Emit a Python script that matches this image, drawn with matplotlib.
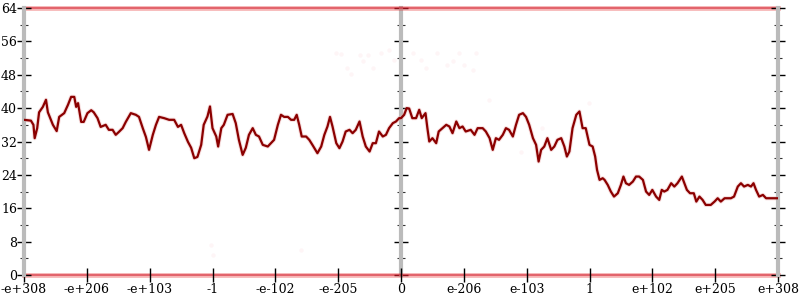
import matplotlib.pyplot as plt

# eje x: posiciones -6..6 (una por etiqueta)
x_linea = [-6.0, -5.89, -5.85, -5.83, -5.79, -5.76, -5.70, -5.65, -5.62, -5.54, -5.48, -5.44,
           -5.36, -5.30, -5.25, -5.20, -5.17, -5.14, -5.09, -5.05, -4.99, -4.93, -4.89, -4.83,
           -4.78, -4.70, -4.65, -4.59, -4.54, -4.49, -4.43, -4.38, -4.30, -4.22, -4.17, -4.11,
           -4.06, -4.01, -3.95, -3.90, -3.85, -3.77, -3.69, -3.61, -3.55, -3.50, -3.45, -3.39,
           -3.34, -3.29, -3.24, -3.18, -3.14, -3.08, -3.04, -3.00, -2.94, -2.91, -2.86, -2.82,
           -2.76, -2.68, -2.63, -2.58, -2.52, -2.47, -2.42, -2.36, -2.31, -2.26, -2.20, -2.12,
           -2.07, -2.02, -1.96, -1.91, -1.86, -1.80, -1.75, -1.70, -1.66, -1.62, -1.58, -1.51,
           -1.46, -1.41, -1.33, -1.27, -1.22, -1.17, -1.13, -1.09, -1.03, -0.98, -0.93, -0.88,
           -0.82, -0.77, -0.72, -0.66, -0.61, -0.56, -0.50, -0.45, -0.40, -0.35, -0.29, -0.24,
           -0.19, -0.13, -0.08, -0.03, 0.0, 0.05, 0.09, 0.13, 0.18, 0.24, 0.29, 0.33, 0.39,
           0.42, 0.45, 0.50, 0.56, 0.60, 0.66, 0.72, 0.77, 0.82, 0.88, 0.93, 0.98, 1.03, 1.11,
           1.17, 1.22, 1.30, 1.35, 1.41, 1.46, 1.51, 1.56, 1.62, 1.67, 1.72, 1.78, 1.83, 1.88,
           1.94, 1.99, 2.04, 2.10, 2.15, 2.19, 2.23, 2.28, 2.33, 2.39, 2.44, 2.49, 2.55, 2.60,
           2.64, 2.68, 2.73, 2.79, 2.84, 2.89, 2.94, 3.00, 3.05, 3.09, 3.12, 3.16, 3.21, 3.24,
           3.29, 3.34, 3.39, 3.45, 3.50, 3.54, 3.58, 3.63, 3.69, 3.74, 3.79, 3.85, 3.90, 3.95,
           4.00, 4.06, 4.11, 4.15, 4.19, 4.24, 4.30, 4.35, 4.40, 4.47, 4.51, 4.55, 4.60, 4.66,
           4.70, 4.75, 4.80, 4.85, 4.93, 4.99, 5.04, 5.09, 5.15, 5.20, 5.25, 5.30, 5.36, 5.41,
           5.46, 5.52, 5.57, 5.61, 5.65, 5.70, 5.76, 5.81, 6.0]
y_linea = [37.2, 37.0, 36.0, 32.8, 35.2, 39.0, 40.3, 42.0, 39.0, 36.0, 34.5, 37.9,
           38.8, 40.8, 42.7, 42.7, 40.3, 41.2, 36.7, 36.7, 38.8, 39.5, 39.0, 37.6,
           35.5, 36.0, 34.8, 34.8, 33.6, 34.3, 35.2, 36.7, 38.8, 38.4, 37.9, 35.2,
           33.1, 30.0, 33.6, 36.0, 37.9, 37.6, 37.2, 37.2, 35.5, 36.0, 34.0, 31.9,
           30.5, 28.0, 28.3, 31.2, 36.0, 38.0, 40.4, 35.2, 33.2, 30.8, 35.2, 36.0,
           38.4, 38.6, 36.4, 32.4, 28.8, 30.5, 33.6, 35.2, 33.6, 33.2, 31.2, 30.8,
           31.6, 32.4, 36.0, 38.4, 37.9, 37.9, 37.2, 37.2, 38.4, 36.0, 33.2, 33.2,
           32.4, 31.2, 29.2, 30.8, 33.6, 35.6, 37.9, 35.6, 31.6, 30.4, 32.0, 34.4,
           34.8, 34.0, 34.8, 36.8, 33.2, 30.8, 29.6, 31.6, 31.6, 34.4, 33.2, 33.6,
           35.2, 36.4, 36.8, 37.6, 37.6, 38.4, 40.0, 39.9, 37.6, 37.6, 39.6, 37.6, 38.8,
           35.2, 32.0, 32.8, 31.6, 34.4, 35.2, 36.0, 35.6, 34.0, 36.8, 35.2, 35.6, 34.4, 34.8,
           33.6, 35.2, 35.2, 34.4, 32.8, 30.0, 32.8, 32.4, 33.6, 35.2, 34.8, 33.2, 36.0, 38.4,
           38.8, 37.9, 36.0, 32.8, 31.2, 27.2, 30.0, 30.8, 32.8, 30.0, 30.8, 32.4, 32.8, 30.8,
           28.4, 29.6, 35.2, 38.4, 39.2, 35.2, 35.2, 31.2, 30.8, 28.4, 25.2, 22.8, 23.2, 22.8,
           21.6, 20.0, 18.8, 19.6, 21.6, 23.6, 22.0, 21.6, 22.4, 23.6, 23.6, 22.8, 20.0, 19.2,
           20.4, 18.8, 18.0, 20.4, 20.0, 20.4, 22.0, 21.2, 22.0, 23.6, 22.0, 20.4, 19.6, 19.6,
           17.6, 18.8, 18.0, 16.8, 16.8, 17.6, 18.4, 17.6, 18.4, 18.4, 18.4, 18.8, 21.2, 22.0,
           21.2, 21.6, 21.2, 22.0, 20.4, 18.8, 19.2, 18.4, 18.4]

# puntos tenues dispersos
x_puntos = [-1.03, -0.95, -0.86, -0.80, -0.66, -0.61, -0.53, -0.45, -0.32, -0.19, -0.11,
            0.19, 0.32, 0.40, 0.58, 0.74, 0.82, 0.93, 1.01, 1.14, 1.19, 1.40, 2.25, 1.91,
            2.99, -3.02, -2.99, -1.59]
y_puntos = [53.2, 53.0, 49.6, 48.2, 52.8, 51.2, 52.8, 49.6, 53.2, 54.0, 51.6,
            53.3, 51.6, 49.6, 53.2, 50.4, 51.2, 53.2, 50.4, 49.2, 53.2, 42.0, 35.2, 29.6,
            41.2, 7.2, 4.8, 6.0]

bandas = [0, 64]

etiquetas_x = ['-e+308', '-e+206', '-e+103', '-1', '-e-102', '-e-205', '0',
               'e-206', 'e-103', '1', 'e+102', 'e+205', 'e+308']
pos_x = list(range(-6, 7))
ticks_y = list(range(0, 65, 8))
ticks_y_menor = list(range(4, 64, 8))

plt.rcParams['font.family'] = 'DejaVu Serif'
fig = plt.figure(figsize=(8, 3), dpi=100)
ax = fig.add_axes([0.03, 0.0833, 0.9425, 0.89])

# bandas rojas (muchos puntos superpuestos en 0 y 64)
for b in bandas:
    ax.axhline(b, color='#e83838', alpha=0.35, lw=3.5, clip_on=False, zorder=1)
    ax.axhline(b, color='#d01020', alpha=0.5, lw=1.5, clip_on=False, zorder=1)
ax.scatter(x_puntos, y_puntos, s=10, color='#f06070', alpha=0.06, lw=0, zorder=1)
ax.plot(x_linea, y_linea, color='#e8a0a0', lw=3, alpha=0.35, zorder=2)
ax.plot(x_linea, y_linea, color='#8b0000', lw=1.6, zorder=3)

ax.set_xlim(-6, 6)
ax.set_ylim(0, 64)
ax.set_xticks(pos_x)
ax.set_xticklabels(etiquetas_x)
ax.set_yticks(ticks_y)
ax.set_yticks(ticks_y_menor, minor=True)

gris = '#bbbbbb'
for lado in ['top', 'bottom']:
    ax.spines[lado].set_visible(False)
for lado in ['left', 'right']:
    ax.spines[lado].set_color(gris)
    ax.spines[lado].set_linewidth(3)

ax.tick_params(axis='x', which='major', direction='inout', length=10, width=1,
               color='black', labelsize=9, pad=1)
ax.tick_params(axis='y', which='major', direction='inout', length=10, width=1,
               color='black', labelsize=9, pad=0)
ax.tick_params(axis='y', which='minor', direction='inout', length=6, width=0.8, color='#333333')
ax.tick_params(axis='y', which='both', right=True)

# eje central en x = 0
medio = ax.secondary_yaxis(0.5)
medio.set_yticks(ticks_y)
medio.set_yticks(ticks_y_menor, minor=True)
for s in medio.spines.values():
    s.set_color(gris)
    s.set_linewidth(3)
medio.tick_params(which='major', direction='inout', length=10, width=1, color='black',
                  labelright=False, labelleft=False)
medio.tick_params(which='minor', direction='inout', length=6, width=0.8, color='#333333')

plt.savefig('out.png')
